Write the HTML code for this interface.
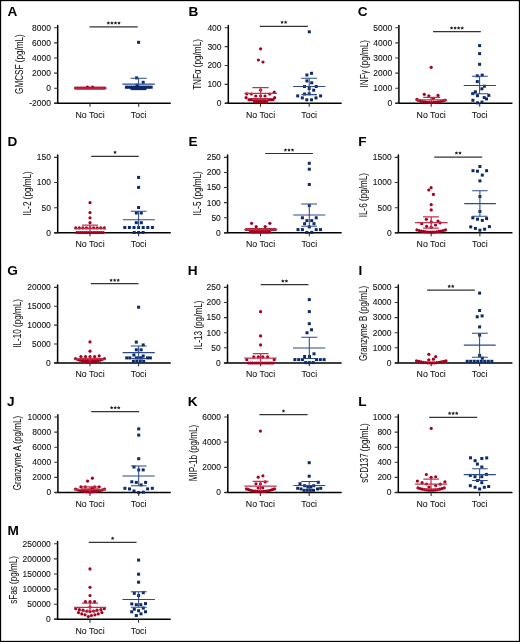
<!DOCTYPE html>
<html><head><meta charset="utf-8"><title>Figure</title><style>
html,body{margin:0;padding:0;background:#fff;}
svg{display:block;will-change:transform;}
text{font-family:"Liberation Sans", sans-serif;fill:#111;stroke:#111;stroke-width:0.06px;}
.L{font-size:13.6px;font-weight:bold;fill:#000;stroke:none;}
.tk{font-size:9.4px;text-anchor:end;stroke-width:0.1px;}
.ct{font-size:8.8px;text-anchor:middle;}
.yl{font-size:10.3px;text-anchor:middle;}
.ax{stroke:#000;stroke-width:1.5;fill:none;stroke-linecap:round;}
.tkl{stroke:#333;stroke-width:1.1;fill:none;}
.sg{stroke:#333;stroke-width:1.2;fill:none;}
.st{fill:#222;}
.r{fill:#a5001c;}
.b{fill:#0b2a6c;}
.rl{stroke:#c2304f;stroke-width:1.25;fill:none;}
.bl{stroke:#2c4a8a;stroke-width:1.05;fill:none;}
</style></head>
<body><svg width="520" height="642" viewBox="0 0 520 642">
<rect x="0" y="0" width="520" height="642" fill="#fff"/>
<text x="7.4" y="15.9" class="L">A</text>
<path d="M57.7 25.5V103.3 M54.8 103.3H170.2" class="ax"/>
<path d="M54.1 27.8H57.7M54.1 42.9H57.7M54.1 58H57.7M54.1 73.1H57.7M54.1 88.2H57.7M54.1 103.3H57.7M90 103.3V106.7M138.7 103.3V106.7" class="tkl"/>
<text transform="translate(50.9 30.65) scale(0.9 1)" class="tk">8000</text>
<text transform="translate(50.9 45.75) scale(0.9 1)" class="tk">6000</text>
<text transform="translate(50.9 60.85) scale(0.9 1)" class="tk">4000</text>
<text transform="translate(50.9 75.95) scale(0.9 1)" class="tk">2000</text>
<text transform="translate(50.9 91.05) scale(0.9 1)" class="tk">0</text>
<text transform="translate(50.9 106.15) scale(0.9 1)" class="tk">-2000</text>
<text x="90" y="117.6" class="ct">No Toci</text>
<text x="138.7" y="117.6" class="ct">Toci</text>
<text transform="translate(22.8 64.1) rotate(-90) scale(0.79 1)" class="yl">GMCSF (pg/mL)</text>
<path d="M89.6 26.9H137.8" class="sg"/>
<g class="st"><polygon points="108.38,21.25 108.94,22.32 110.13,22.53 109.29,23.4 109.46,24.6 108.38,24.06 107.29,24.6 107.46,23.4 106.62,22.53 107.81,22.32"/><polygon points="111.92,21.25 112.49,22.32 113.68,22.53 112.84,23.4 113.01,24.6 111.92,24.06 110.84,24.6 111.01,23.4 110.17,22.53 111.36,22.32"/><polygon points="115.48,21.25 116.04,22.32 117.23,22.53 116.39,23.4 116.56,24.6 115.48,24.06 114.39,24.6 114.56,23.4 113.72,22.53 114.91,22.32"/><polygon points="119.03,21.25 119.59,22.32 120.78,22.53 119.94,23.4 120.11,24.6 119.03,24.06 117.94,24.6 118.11,23.4 117.27,22.53 118.46,22.32"/></g>
<g class="r"><circle cx="75.5" cy="88.1" r="1.6"/><circle cx="77.04" cy="88.1" r="1.6"/><circle cx="78.57" cy="88.1" r="1.6"/><circle cx="80.11" cy="88.1" r="1.6"/><circle cx="81.65" cy="88.1" r="1.6"/><circle cx="83.18" cy="88.1" r="1.6"/><circle cx="84.72" cy="88.1" r="1.6"/><circle cx="86.26" cy="88.1" r="1.6"/><circle cx="87.79" cy="88.1" r="1.6"/><circle cx="89.33" cy="88.1" r="1.6"/><circle cx="90.87" cy="88.1" r="1.6"/><circle cx="92.41" cy="88.1" r="1.6"/><circle cx="93.94" cy="88.1" r="1.6"/><circle cx="95.48" cy="88.1" r="1.6"/><circle cx="97.02" cy="88.1" r="1.6"/><circle cx="98.55" cy="88.1" r="1.6"/><circle cx="100.09" cy="88.1" r="1.6"/><circle cx="101.63" cy="88.1" r="1.6"/><circle cx="103.16" cy="88.1" r="1.6"/><circle cx="104.7" cy="88.1" r="1.6"/><circle cx="87.4" cy="87.2" r="1.6"/><circle cx="92.6" cy="87.2" r="1.6"/></g>
<path d="M74 88.1H106.5" class="rl"/>
<g class="b"><rect x="137.1" y="40.8" width="3" height="3"/><rect x="135.1" y="76.4" width="3" height="3"/><rect x="141.7" y="80.8" width="3" height="3"/><rect x="135.5" y="83.8" width="3" height="3"/><rect x="124.9" y="85.7" width="3" height="3"/><rect x="126.97" y="85.7" width="3" height="3"/><rect x="129.03" y="85.7" width="3" height="3"/><rect x="131.1" y="85.7" width="3" height="3"/><rect x="133.17" y="85.7" width="3" height="3"/><rect x="135.23" y="85.7" width="3" height="3"/><rect x="137.3" y="85.7" width="3" height="3"/><rect x="139.37" y="85.7" width="3" height="3"/><rect x="141.43" y="85.7" width="3" height="3"/><rect x="143.5" y="85.7" width="3" height="3"/><rect x="145.57" y="85.7" width="3" height="3"/><rect x="147.63" y="85.7" width="3" height="3"/><rect x="149.7" y="85.7" width="3" height="3"/><rect x="130.5" y="87.1" width="3" height="3"/><rect x="132.67" y="87.1" width="3" height="3"/><rect x="134.83" y="87.1" width="3" height="3"/><rect x="137" y="87.1" width="3" height="3"/><rect x="139.17" y="87.1" width="3" height="3"/><rect x="141.33" y="87.1" width="3" height="3"/><rect x="143.5" y="87.1" width="3" height="3"/></g>
<path d="M122.4 84.1H154.8M130.5 78.2H146.7M138.6 78.2V86" class="bl"/>
<text x="188.4" y="15.9" class="L">B</text>
<path d="M228.3 25.5V103.3 M225.4 103.3H341.1" class="ax"/>
<path d="M224.7 27.8H228.3M224.7 46.67H228.3M224.7 65.55H228.3M224.7 84.42H228.3M224.7 103.3H228.3M260.5 103.3V106.7M309.2 103.3V106.7" class="tkl"/>
<text transform="translate(221.5 30.65) scale(0.9 1)" class="tk">400</text>
<text transform="translate(221.5 49.52) scale(0.9 1)" class="tk">300</text>
<text transform="translate(221.5 68.4) scale(0.9 1)" class="tk">200</text>
<text transform="translate(221.5 87.27) scale(0.9 1)" class="tk">100</text>
<text transform="translate(221.5 106.15) scale(0.9 1)" class="tk">0</text>
<text x="260.5" y="117.6" class="ct">No Toci</text>
<text x="309.2" y="117.6" class="ct">Toci</text>
<text transform="translate(201.2 64.5) rotate(-90) scale(0.79 1)" class="yl">TNFα (pg/mL)</text>
<path d="M259.8 26.4H307.9" class="sg"/>
<g class="st"><polygon points="282.08,20.45 282.64,21.52 283.83,21.73 282.99,22.6 283.16,23.8 282.08,23.26 280.99,23.8 281.16,22.6 280.32,21.73 281.51,21.52"/><polygon points="285.62,20.45 286.19,21.52 287.38,21.73 286.54,22.6 286.71,23.8 285.62,23.26 284.54,23.8 284.71,22.6 283.87,21.73 285.06,21.52"/></g>
<g class="r"><circle cx="260.6" cy="48.8" r="1.6"/><circle cx="258.4" cy="60" r="1.6"/><circle cx="263" cy="62" r="1.6"/><circle cx="260.6" cy="90.1" r="1.6"/><circle cx="246.8" cy="93.9" r="1.6"/><circle cx="251.3" cy="94" r="1.6"/><circle cx="269.7" cy="94" r="1.6"/><circle cx="274.2" cy="92.2" r="1.6"/><circle cx="255.8" cy="96" r="1.6"/><circle cx="260.6" cy="96" r="1.6"/><circle cx="265" cy="96" r="1.6"/><circle cx="246.1" cy="97.7" r="1.6"/><circle cx="274.7" cy="97.7" r="1.6"/><circle cx="249" cy="99.7" r="1.6"/><circle cx="251" cy="99.7" r="1.6"/><circle cx="253" cy="99.7" r="1.6"/><circle cx="255" cy="99.7" r="1.6"/><circle cx="257" cy="99.7" r="1.6"/><circle cx="259" cy="99.7" r="1.6"/><circle cx="261" cy="99.7" r="1.6"/><circle cx="263" cy="99.7" r="1.6"/><circle cx="265" cy="99.7" r="1.6"/><circle cx="267" cy="99.7" r="1.6"/><circle cx="269" cy="99.7" r="1.6"/><circle cx="271" cy="99.7" r="1.6"/><circle cx="273" cy="99.7" r="1.6"/><circle cx="254.5" cy="101.6" r="1.6"/><circle cx="256.5" cy="101.6" r="1.6"/><circle cx="258.5" cy="101.6" r="1.6"/><circle cx="260.5" cy="101.6" r="1.6"/><circle cx="262.5" cy="101.6" r="1.6"/><circle cx="264.5" cy="101.6" r="1.6"/><circle cx="266.5" cy="101.6" r="1.6"/></g>
<path d="M244.3 93.3H277M252.4 87.5H268.6M252.4 99.5H268.6M260.6 87.5V99.5" class="rl"/>
<g class="b"><rect x="307.8" y="30.3" width="3" height="3"/><rect x="310" y="71.8" width="3" height="3"/><rect x="305.4" y="73.5" width="3" height="3"/><rect x="305.4" y="79.4" width="3" height="3"/><rect x="310.2" y="81.3" width="3" height="3"/><rect x="303" y="85" width="3" height="3"/><rect x="314.7" y="85" width="3" height="3"/><rect x="307.7" y="87" width="3" height="3"/><rect x="312.2" y="88.7" width="3" height="3"/><rect x="303.1" y="92.5" width="3" height="3"/><rect x="307.7" y="92.3" width="3" height="3"/><rect x="296.2" y="94.4" width="3" height="3"/><rect x="319.1" y="94.4" width="3" height="3"/><rect x="300.8" y="96.4" width="3" height="3"/><rect x="314.5" y="96.4" width="3" height="3"/><rect x="305.3" y="98.3" width="3" height="3"/><rect x="310" y="98.3" width="3" height="3"/></g>
<path d="M293.1 86.5H325.4M301.2 78.2H317M301.5 94.6H317M309.2 78.2V94.6" class="bl"/>
<text x="357.8" y="15.9" class="L">C</text>
<path d="M398.9 25.5V103.3 M396 103.3H511.9" class="ax"/>
<path d="M395.3 27.8H398.9M395.3 42.9H398.9M395.3 58H398.9M395.3 73.1H398.9M395.3 88.2H398.9M395.3 103.3H398.9M431.2 103.3V106.7M479.7 103.3V106.7" class="tkl"/>
<text transform="translate(392.1 30.65) scale(0.9 1)" class="tk">5000</text>
<text transform="translate(392.1 45.75) scale(0.9 1)" class="tk">4000</text>
<text transform="translate(392.1 60.85) scale(0.9 1)" class="tk">3000</text>
<text transform="translate(392.1 75.95) scale(0.9 1)" class="tk">2000</text>
<text transform="translate(392.1 91.05) scale(0.9 1)" class="tk">1000</text>
<text transform="translate(392.1 106.15) scale(0.9 1)" class="tk">0</text>
<text x="431.2" y="117.6" class="ct">No Toci</text>
<text x="479.7" y="117.6" class="ct">Toci</text>
<text transform="translate(367.7 63.7) rotate(-90) scale(0.79 1)" class="yl">INFγ (pg/mL)</text>
<path d="M433 31.6H480.8" class="sg"/>
<g class="st"><polygon points="451.57,26.25 452.14,27.32 453.33,27.53 452.49,28.4 452.66,29.6 451.57,29.06 450.49,29.6 450.66,28.4 449.82,27.53 451.01,27.32"/><polygon points="455.12,26.25 455.69,27.32 456.88,27.53 456.04,28.4 456.21,29.6 455.12,29.06 454.04,29.6 454.21,28.4 453.37,27.53 454.56,27.32"/><polygon points="458.67,26.25 459.24,27.32 460.43,27.53 459.59,28.4 459.76,29.6 458.67,29.06 457.59,29.6 457.76,28.4 456.92,27.53 458.11,27.32"/><polygon points="462.22,26.25 462.79,27.32 463.98,27.53 463.14,28.4 463.31,29.6 462.22,29.06 461.14,29.6 461.31,28.4 460.47,27.53 461.66,27.32"/></g>
<g class="r"><circle cx="431.2" cy="67.3" r="1.6"/><circle cx="424.3" cy="94.3" r="1.6"/><circle cx="428.8" cy="95.8" r="1.6"/><circle cx="438" cy="95.4" r="1.6"/><circle cx="433.4" cy="98.6" r="1.6"/><circle cx="416.9" cy="99.4" r="1.6"/><circle cx="418" cy="100.2" r="1.6"/><circle cx="420.25" cy="100.9" r="1.6"/><circle cx="422.5" cy="101.48" r="1.6"/><circle cx="424.75" cy="101.92" r="1.6"/><circle cx="427" cy="102.24" r="1.6"/><circle cx="429.25" cy="102.44" r="1.6"/><circle cx="431.5" cy="102.5" r="1.6"/><circle cx="433.75" cy="102.44" r="1.6"/><circle cx="436" cy="102.24" r="1.6"/><circle cx="438.25" cy="101.92" r="1.6"/><circle cx="440.5" cy="101.48" r="1.6"/><circle cx="442.75" cy="100.9" r="1.6"/><circle cx="445" cy="100.2" r="1.6"/></g>
<path d="M415.7 99.8H447.2M423.3 97.3H440M431.2 97.3V101" class="rl"/>
<g class="b"><rect x="478.1" y="44.1" width="3" height="3"/><rect x="478.1" y="52.1" width="3" height="3"/><rect x="478.1" y="62.8" width="3" height="3"/><rect x="475.8" y="74.3" width="3" height="3"/><rect x="480.7" y="73.6" width="3" height="3"/><rect x="475.8" y="80.1" width="3" height="3"/><rect x="482.9" y="84.7" width="3" height="3"/><rect x="480.4" y="87.3" width="3" height="3"/><rect x="473.9" y="90.3" width="3" height="3"/><rect x="471.2" y="92.1" width="3" height="3"/><rect x="476" y="94.2" width="3" height="3"/><rect x="487.3" y="93.9" width="3" height="3"/><rect x="482.7" y="96.1" width="3" height="3"/><rect x="485" y="97.4" width="3" height="3"/><rect x="471.4" y="98.8" width="3" height="3"/><rect x="480.5" y="100.6" width="3" height="3"/><rect x="476" y="101.3" width="3" height="3"/></g>
<path d="M463.7 85.4H496M471.9 76.3H487.8M472 93.8H488.4M479.6 76.3V93.8" class="bl"/>
<text x="7.5" y="146.1" class="L">D</text>
<path d="M57.7 155.05V232.85 M54.8 232.85H170.2" class="ax"/>
<path d="M54.1 157.35H57.7M54.1 182.52H57.7M54.1 207.68H57.7M54.1 232.85H57.7M90 232.85V236.25M138.6 232.85V236.25" class="tkl"/>
<text transform="translate(50.9 160.2) scale(0.9 1)" class="tk">150</text>
<text transform="translate(50.9 185.37) scale(0.9 1)" class="tk">100</text>
<text transform="translate(50.9 210.53) scale(0.9 1)" class="tk">50</text>
<text transform="translate(50.9 235.7) scale(0.9 1)" class="tk">0</text>
<text x="90" y="247.15" class="ct">No Toci</text>
<text x="138.6" y="247.15" class="ct">Toci</text>
<text transform="translate(30.6 193.4) rotate(-90) scale(0.79 1)" class="yl">IL-2 (pg/mL)</text>
<path d="M91.2 156.4H138.8" class="sg"/>
<g class="st"><polygon points="115,150.55 115.57,151.62 116.76,151.83 115.91,152.7 116.09,153.9 115,153.36 113.91,153.9 114.09,152.7 113.24,151.83 114.43,151.62"/></g>
<g class="r"><circle cx="90" cy="202.7" r="1.6"/><circle cx="90" cy="212.6" r="1.6"/><circle cx="90" cy="217.8" r="1.6"/><circle cx="90" cy="222.7" r="1.6"/><circle cx="75.7" cy="227.9" r="1.6"/><circle cx="79.28" cy="227.9" r="1.6"/><circle cx="82.85" cy="227.9" r="1.6"/><circle cx="86.42" cy="227.9" r="1.6"/><circle cx="90" cy="227.9" r="1.6"/><circle cx="93.58" cy="227.9" r="1.6"/><circle cx="97.15" cy="227.9" r="1.6"/><circle cx="100.72" cy="227.9" r="1.6"/><circle cx="104.3" cy="227.9" r="1.6"/><circle cx="76.8" cy="232.5" r="1.6"/><circle cx="78.83" cy="232.5" r="1.6"/><circle cx="80.86" cy="232.5" r="1.6"/><circle cx="82.89" cy="232.5" r="1.6"/><circle cx="84.92" cy="232.5" r="1.6"/><circle cx="86.95" cy="232.5" r="1.6"/><circle cx="88.98" cy="232.5" r="1.6"/><circle cx="91.02" cy="232.5" r="1.6"/><circle cx="93.05" cy="232.5" r="1.6"/><circle cx="95.08" cy="232.5" r="1.6"/><circle cx="97.11" cy="232.5" r="1.6"/><circle cx="99.14" cy="232.5" r="1.6"/><circle cx="101.17" cy="232.5" r="1.6"/><circle cx="103.2" cy="232.5" r="1.6"/></g>
<path d="M74.5 228.6H106M82.1 225H97.9M90 225V231" class="rl"/>
<g class="b"><rect x="137.1" y="175.9" width="3" height="3"/><rect x="137.1" y="185.9" width="3" height="3"/><rect x="137.1" y="206" width="3" height="3"/><rect x="134.8" y="211.5" width="3" height="3"/><rect x="139.8" y="211.5" width="3" height="3"/><rect x="134.8" y="221.2" width="3" height="3"/><rect x="139.8" y="221.2" width="3" height="3"/><rect x="123.3" y="226" width="3" height="3"/><rect x="127.9" y="226" width="3" height="3"/><rect x="132.5" y="226" width="3" height="3"/><rect x="137.1" y="226" width="3" height="3"/><rect x="141.7" y="226" width="3" height="3"/><rect x="146.3" y="226" width="3" height="3"/><rect x="150.9" y="226" width="3" height="3"/><rect x="132.7" y="231" width="3" height="3"/><rect x="137.15" y="231" width="3" height="3"/><rect x="141.6" y="231" width="3" height="3"/></g>
<path d="M122.8 219.7H154.9M130.8 211.3H146.5M138.6 211.3V228" class="bl"/>
<text x="188.6" y="146.2" class="L">E</text>
<path d="M227.6 155.05V232.85 M224.7 232.85H341.1" class="ax"/>
<path d="M224 157.35H227.6M224 172.45H227.6M224 187.55H227.6M224 202.65H227.6M224 217.75H227.6M224 232.85H227.6M260.5 232.85V236.25M309.3 232.85V236.25" class="tkl"/>
<text transform="translate(220.8 160.2) scale(0.9 1)" class="tk">250</text>
<text transform="translate(220.8 175.3) scale(0.9 1)" class="tk">200</text>
<text transform="translate(220.8 190.4) scale(0.9 1)" class="tk">150</text>
<text transform="translate(220.8 205.5) scale(0.9 1)" class="tk">100</text>
<text transform="translate(220.8 220.6) scale(0.9 1)" class="tk">50</text>
<text transform="translate(220.8 235.7) scale(0.9 1)" class="tk">0</text>
<text x="260.5" y="247.15" class="ct">No Toci</text>
<text x="309.3" y="247.15" class="ct">Toci</text>
<text transform="translate(201.3 193.4) rotate(-90) scale(0.79 1)" class="yl">IL-5 (pg/mL)</text>
<path d="M265.1 153.5H312.9" class="sg"/>
<g class="st"><polygon points="285.45,148.15 286.02,149.22 287.21,149.43 286.36,150.3 286.54,151.5 285.45,150.96 284.36,151.5 284.54,150.3 283.69,149.43 284.88,149.22"/><polygon points="289,148.15 289.57,149.22 290.76,149.43 289.91,150.3 290.09,151.5 289,150.96 287.91,151.5 288.09,150.3 287.24,149.43 288.43,149.22"/><polygon points="292.55,148.15 293.12,149.22 294.31,149.43 293.46,150.3 293.64,151.5 292.55,150.96 291.46,151.5 291.64,150.3 290.79,149.43 291.98,149.22"/></g>
<g class="r"><circle cx="251.6" cy="223.3" r="1.6"/><circle cx="269.9" cy="223.3" r="1.6"/><circle cx="256.2" cy="226.6" r="1.6"/><circle cx="265.2" cy="226.6" r="1.6"/><circle cx="246.2" cy="229.5" r="1.6"/><circle cx="248.14" cy="229.5" r="1.6"/><circle cx="250.08" cy="229.5" r="1.6"/><circle cx="252.02" cy="229.5" r="1.6"/><circle cx="253.96" cy="229.5" r="1.6"/><circle cx="255.9" cy="229.5" r="1.6"/><circle cx="257.84" cy="229.5" r="1.6"/><circle cx="259.78" cy="229.5" r="1.6"/><circle cx="261.72" cy="229.5" r="1.6"/><circle cx="263.66" cy="229.5" r="1.6"/><circle cx="265.6" cy="229.5" r="1.6"/><circle cx="267.54" cy="229.5" r="1.6"/><circle cx="269.48" cy="229.5" r="1.6"/><circle cx="271.42" cy="229.5" r="1.6"/><circle cx="273.36" cy="229.5" r="1.6"/><circle cx="275.3" cy="229.5" r="1.6"/><circle cx="250.5" cy="232" r="1.6"/><circle cx="252.4" cy="232" r="1.6"/><circle cx="254.3" cy="232" r="1.6"/><circle cx="256.2" cy="232" r="1.6"/><circle cx="258.1" cy="232" r="1.6"/><circle cx="260" cy="232" r="1.6"/><circle cx="261.9" cy="232" r="1.6"/><circle cx="263.8" cy="232" r="1.6"/><circle cx="265.7" cy="232" r="1.6"/><circle cx="267.6" cy="232" r="1.6"/><circle cx="269.5" cy="232" r="1.6"/></g>
<path d="M244.3 229.5H277.3" class="rl"/>
<g class="b"><rect x="307.8" y="161.8" width="3" height="3"/><rect x="307.8" y="167.7" width="3" height="3"/><rect x="307.8" y="183" width="3" height="3"/><rect x="307.8" y="204.1" width="3" height="3"/><rect x="300.9" y="216.3" width="3" height="3"/><rect x="314.7" y="216.3" width="3" height="3"/><rect x="305.4" y="219.1" width="3" height="3"/><rect x="310.2" y="219.1" width="3" height="3"/><rect x="303.1" y="222.2" width="3" height="3"/><rect x="312.5" y="222.2" width="3" height="3"/><rect x="307.8" y="225.4" width="3" height="3"/><rect x="296.5" y="228.1" width="3" height="3"/><rect x="300.9" y="228.1" width="3" height="3"/><rect x="314.7" y="228.1" width="3" height="3"/><rect x="319" y="228.1" width="3" height="3"/><rect x="305.4" y="230.9" width="3" height="3"/><rect x="310.2" y="230.9" width="3" height="3"/></g>
<path d="M293.3 215H325.3M301.3 204H317M301.3 226.3H317M309.3 204V226.3" class="bl"/>
<text x="358.3" y="146.2" class="L">F</text>
<path d="M398.4 155.05V232.85 M395.5 232.85H511.9" class="ax"/>
<path d="M394.8 157.35H398.4M394.8 182.52H398.4M394.8 207.68H398.4M394.8 232.85H398.4M431.2 232.85V236.25M479.9 232.85V236.25" class="tkl"/>
<text transform="translate(391.6 160.2) scale(0.9 1)" class="tk">1500</text>
<text transform="translate(391.6 185.37) scale(0.9 1)" class="tk">1000</text>
<text transform="translate(391.6 210.53) scale(0.9 1)" class="tk">500</text>
<text transform="translate(391.6 235.7) scale(0.9 1)" class="tk">0</text>
<text x="431.2" y="247.15" class="ct">No Toci</text>
<text x="479.9" y="247.15" class="ct">Toci</text>
<text transform="translate(367 195.1) rotate(-90) scale(0.79 1)" class="yl">IL-6 (pg/mL)</text>
<path d="M434.2 157.1H482.2" class="sg"/>
<g class="st"><polygon points="456.43,151.25 456.99,152.32 458.18,152.53 457.34,153.4 457.51,154.6 456.43,154.06 455.34,154.6 455.51,153.4 454.67,152.53 455.86,152.32"/><polygon points="459.97,151.25 460.54,152.32 461.73,152.53 460.89,153.4 461.06,154.6 459.97,154.06 458.89,154.6 459.06,153.4 458.22,152.53 459.41,152.32"/></g>
<g class="r"><circle cx="431.1" cy="187.7" r="1.6"/><circle cx="428.8" cy="190" r="1.6"/><circle cx="433.4" cy="194.4" r="1.6"/><circle cx="431.2" cy="204.7" r="1.6"/><circle cx="431.2" cy="209.9" r="1.6"/><circle cx="426.4" cy="219.3" r="1.6"/><circle cx="431.2" cy="221.9" r="1.6"/><circle cx="438" cy="221" r="1.6"/><circle cx="440.1" cy="222.8" r="1.6"/><circle cx="421.8" cy="223.7" r="1.6"/><circle cx="435.6" cy="225" r="1.6"/><circle cx="426.6" cy="226.3" r="1.6"/><circle cx="431.2" cy="227.2" r="1.6"/><circle cx="417" cy="229.9" r="1.6"/><circle cx="419.19" cy="230.52" r="1.6"/><circle cx="421.38" cy="231.05" r="1.6"/><circle cx="423.58" cy="231.46" r="1.6"/><circle cx="425.77" cy="231.77" r="1.6"/><circle cx="427.96" cy="231.98" r="1.6"/><circle cx="430.15" cy="232.09" r="1.6"/><circle cx="432.35" cy="232.09" r="1.6"/><circle cx="434.54" cy="231.98" r="1.6"/><circle cx="436.73" cy="231.77" r="1.6"/><circle cx="438.92" cy="231.46" r="1.6"/><circle cx="441.12" cy="231.05" r="1.6"/><circle cx="443.31" cy="230.52" r="1.6"/><circle cx="445.5" cy="229.9" r="1.6"/></g>
<path d="M414.8 222.5H447.6M423.1 216.9H438.8M423.1 228H438.8M431.2 216.9V228" class="rl"/>
<g class="b"><rect x="478.4" y="165" width="3" height="3"/><rect x="471.5" y="169.2" width="3" height="3"/><rect x="476" y="169.7" width="3" height="3"/><rect x="485.1" y="169.2" width="3" height="3"/><rect x="480.8" y="173.6" width="3" height="3"/><rect x="478.4" y="179.4" width="3" height="3"/><rect x="478.4" y="195" width="3" height="3"/><rect x="478.4" y="210" width="3" height="3"/><rect x="471.3" y="216.3" width="3" height="3"/><rect x="476" y="217.7" width="3" height="3"/><rect x="480.8" y="218.9" width="3" height="3"/><rect x="485.1" y="217.1" width="3" height="3"/><rect x="469.2" y="225.4" width="3" height="3"/><rect x="473.9" y="226.9" width="3" height="3"/><rect x="478.4" y="228.7" width="3" height="3"/><rect x="483.1" y="227.7" width="3" height="3"/><rect x="487.9" y="225.1" width="3" height="3"/></g>
<path d="M464.2 203.6H495.9M472.2 190.8H487.6M472.2 216.2H487.6M479.9 190.8V216.2" class="bl"/>
<text x="7.2" y="275.3" class="L">G</text>
<path d="M57.6 285.1V362.9 M54.7 362.9H170.2" class="ax"/>
<path d="M54 287.4H57.6M54 306.27H57.6M54 325.15H57.6M54 344.02H57.6M54 362.9H57.6M90 362.9V366.3M138.6 362.9V366.3" class="tkl"/>
<text transform="translate(50.8 290.25) scale(0.9 1)" class="tk">20000</text>
<text transform="translate(50.8 309.12) scale(0.9 1)" class="tk">15000</text>
<text transform="translate(50.8 328) scale(0.9 1)" class="tk">10000</text>
<text transform="translate(50.8 346.88) scale(0.9 1)" class="tk">5000</text>
<text transform="translate(50.8 365.75) scale(0.9 1)" class="tk">0</text>
<text x="90" y="377.2" class="ct">No Toci</text>
<text x="138.6" y="377.2" class="ct">Toci</text>
<text transform="translate(21.3 323.4) rotate(-90) scale(0.79 1)" class="yl">IL-10 (pg/mL)</text>
<path d="M90.8 283.7H138.5" class="sg"/>
<g class="st"><polygon points="111.1,278.45 111.67,279.52 112.86,279.73 112.01,280.6 112.19,281.8 111.1,281.26 110.01,281.8 110.19,280.6 109.34,279.73 110.53,279.52"/><polygon points="114.65,278.45 115.22,279.52 116.41,279.73 115.56,280.6 115.74,281.8 114.65,281.26 113.56,281.8 113.74,280.6 112.89,279.73 114.08,279.52"/><polygon points="118.2,278.45 118.77,279.52 119.96,279.73 119.11,280.6 119.29,281.8 118.2,281.26 117.11,281.8 117.29,280.6 116.44,279.73 117.63,279.52"/></g>
<g class="r"><circle cx="90" cy="341.9" r="1.6"/><circle cx="90" cy="351.2" r="1.6"/><circle cx="80.9" cy="356.6" r="1.6"/><circle cx="85.5" cy="356.6" r="1.6"/><circle cx="90" cy="356.6" r="1.6"/><circle cx="94.6" cy="356.6" r="1.6"/><circle cx="99.2" cy="355.8" r="1.6"/><circle cx="75.5" cy="358.6" r="1.6"/><circle cx="77.73" cy="359.51" r="1.6"/><circle cx="79.96" cy="360.27" r="1.6"/><circle cx="82.19" cy="360.87" r="1.6"/><circle cx="84.42" cy="361.33" r="1.6"/><circle cx="86.65" cy="361.63" r="1.6"/><circle cx="88.88" cy="361.78" r="1.6"/><circle cx="91.12" cy="361.78" r="1.6"/><circle cx="93.35" cy="361.63" r="1.6"/><circle cx="95.58" cy="361.33" r="1.6"/><circle cx="97.81" cy="360.87" r="1.6"/><circle cx="100.04" cy="360.27" r="1.6"/><circle cx="102.27" cy="359.51" r="1.6"/><circle cx="104.5" cy="358.6" r="1.6"/><circle cx="80" cy="359.6" r="1.6"/><circle cx="82" cy="359.6" r="1.6"/><circle cx="84" cy="359.6" r="1.6"/><circle cx="86" cy="359.6" r="1.6"/><circle cx="88" cy="359.6" r="1.6"/><circle cx="90" cy="359.6" r="1.6"/><circle cx="92" cy="359.6" r="1.6"/><circle cx="94" cy="359.6" r="1.6"/><circle cx="96" cy="359.6" r="1.6"/><circle cx="98" cy="359.6" r="1.6"/><circle cx="100" cy="359.6" r="1.6"/></g>
<path d="M74 359.2H106M80 358.4H100M90 358.4V362" class="rl"/>
<g class="b"><rect x="137.1" y="305.7" width="3" height="3"/><rect x="134.8" y="340.6" width="3" height="3"/><rect x="141.7" y="343.4" width="3" height="3"/><rect x="134.8" y="348.3" width="3" height="3"/><rect x="139.6" y="348.3" width="3" height="3"/><rect x="132.4" y="353.5" width="3" height="3"/><rect x="141.7" y="354.5" width="3" height="3"/><rect x="125.2" y="356.4" width="3" height="3"/><rect x="128.3" y="356.4" width="3" height="3"/><rect x="134.8" y="356.4" width="3" height="3"/><rect x="137.5" y="356.4" width="3" height="3"/><rect x="140" y="356.4" width="3" height="3"/><rect x="146" y="356.4" width="3" height="3"/><rect x="148.9" y="356.4" width="3" height="3"/><rect x="131.9" y="359.7" width="3" height="3"/><rect x="135.33" y="359.7" width="3" height="3"/><rect x="138.77" y="359.7" width="3" height="3"/><rect x="142.2" y="359.7" width="3" height="3"/></g>
<path d="M122.6 352.6H154.8M130.8 345.9H146.6M130.8 358.5H146.6M138.6 345.9V358.5" class="bl"/>
<text x="187.8" y="275.3" class="L">H</text>
<path d="M227.5 285.1V362.9 M224.6 362.9H341.1" class="ax"/>
<path d="M223.9 287.4H227.5M223.9 302.5H227.5M223.9 317.6H227.5M223.9 332.7H227.5M223.9 347.8H227.5M223.9 362.9H227.5M260.6 362.9V366.3M309.3 362.9V366.3" class="tkl"/>
<text transform="translate(220.7 290.25) scale(0.9 1)" class="tk">250</text>
<text transform="translate(220.7 305.35) scale(0.9 1)" class="tk">200</text>
<text transform="translate(220.7 320.45) scale(0.9 1)" class="tk">150</text>
<text transform="translate(220.7 335.55) scale(0.9 1)" class="tk">100</text>
<text transform="translate(220.7 350.65) scale(0.9 1)" class="tk">50</text>
<text transform="translate(220.7 365.75) scale(0.9 1)" class="tk">0</text>
<text x="260.6" y="377.2" class="ct">No Toci</text>
<text x="309.3" y="377.2" class="ct">Toci</text>
<text transform="translate(201.6 325) rotate(-90) scale(0.79 1)" class="yl">IL-13 (pg/mL)</text>
<path d="M260.8 284.7H308.5" class="sg"/>
<g class="st"><polygon points="282.88,279.25 283.44,280.32 284.63,280.53 283.79,281.4 283.96,282.6 282.88,282.06 281.79,282.6 281.96,281.4 281.12,280.53 282.31,280.32"/><polygon points="286.42,279.25 286.99,280.32 288.18,280.53 287.34,281.4 287.51,282.6 286.42,282.06 285.34,282.6 285.51,281.4 284.67,280.53 285.86,280.32"/></g>
<g class="r"><circle cx="260.6" cy="311.7" r="1.6"/><circle cx="260.6" cy="335.9" r="1.6"/><circle cx="260.6" cy="344.9" r="1.6"/><circle cx="253.8" cy="356.8" r="1.6"/><circle cx="258.3" cy="356.8" r="1.6"/><circle cx="262.8" cy="356.8" r="1.6"/><circle cx="267.6" cy="356.8" r="1.6"/><circle cx="246.8" cy="359.7" r="1.6"/><circle cx="274.2" cy="359.7" r="1.6"/><circle cx="248.5" cy="363" r="1.6"/><circle cx="250.54" cy="363" r="1.6"/><circle cx="252.58" cy="363" r="1.6"/><circle cx="254.62" cy="363" r="1.6"/><circle cx="256.67" cy="363" r="1.6"/><circle cx="258.71" cy="363" r="1.6"/><circle cx="260.75" cy="363" r="1.6"/><circle cx="262.79" cy="363" r="1.6"/><circle cx="264.83" cy="363" r="1.6"/><circle cx="266.88" cy="363" r="1.6"/><circle cx="268.92" cy="363" r="1.6"/><circle cx="270.96" cy="363" r="1.6"/><circle cx="273" cy="363" r="1.6"/></g>
<path d="M244.3 358H276.6M252.8 353.5H268.5M260.6 353.5V363" class="rl"/>
<g class="b"><rect x="307.8" y="298.1" width="3" height="3"/><rect x="307.8" y="310.1" width="3" height="3"/><rect x="307.8" y="322.2" width="3" height="3"/><rect x="310" y="328.3" width="3" height="3"/><rect x="305.5" y="331.3" width="3" height="3"/><rect x="312.5" y="352.3" width="3" height="3"/><rect x="303.1" y="355" width="3" height="3"/><rect x="308" y="355" width="3" height="3"/><rect x="293.4" y="358.1" width="3" height="3"/><rect x="297.2" y="358.1" width="3" height="3"/><rect x="300.9" y="358.1" width="3" height="3"/><rect x="315" y="358.1" width="3" height="3"/><rect x="318.8" y="358.1" width="3" height="3"/><rect x="322.6" y="358.1" width="3" height="3"/><rect x="304.2" y="361.1" width="3" height="3"/><rect x="307.8" y="361.1" width="3" height="3"/><rect x="311.7" y="361.1" width="3" height="3"/></g>
<path d="M293 348H325.3M301.3 337.3H317.3M301.3 358.5H317.3M309.3 337.3V358.5" class="bl"/>
<text x="358.5" y="275.3" class="L">I</text>
<path d="M398.3 285.1V362.9 M395.4 362.9H511.9" class="ax"/>
<path d="M394.7 287.4H398.3M394.7 302.5H398.3M394.7 317.6H398.3M394.7 332.7H398.3M394.7 347.8H398.3M394.7 362.9H398.3M431.2 362.9V366.3M479.6 362.9V366.3" class="tkl"/>
<text transform="translate(391.5 290.25) scale(0.9 1)" class="tk">5000</text>
<text transform="translate(391.5 305.35) scale(0.9 1)" class="tk">4000</text>
<text transform="translate(391.5 320.45) scale(0.9 1)" class="tk">3000</text>
<text transform="translate(391.5 335.55) scale(0.9 1)" class="tk">2000</text>
<text transform="translate(391.5 350.65) scale(0.9 1)" class="tk">1000</text>
<text transform="translate(391.5 365.75) scale(0.9 1)" class="tk">0</text>
<text x="431.2" y="377.2" class="ct">No Toci</text>
<text x="479.6" y="377.2" class="ct">Toci</text>
<text transform="translate(366.6 323.4) rotate(-90) scale(0.79 1)" class="yl">Granzyme B (pg/mL)</text>
<path d="M427.1 290.1H474.9" class="sg"/>
<g class="st"><polygon points="449.23,284.55 449.79,285.62 450.98,285.83 450.14,286.7 450.31,287.9 449.23,287.36 448.14,287.9 448.31,286.7 447.47,285.83 448.66,285.62"/><polygon points="452.77,284.55 453.34,285.62 454.53,285.83 453.69,286.7 453.86,287.9 452.77,287.36 451.69,287.9 451.86,286.7 451.02,285.83 452.21,285.62"/></g>
<g class="r"><circle cx="428.8" cy="354.3" r="1.6"/><circle cx="435.7" cy="356.7" r="1.6"/><circle cx="428.8" cy="359.8" r="1.6"/><circle cx="433.4" cy="359.2" r="1.6"/><circle cx="416.5" cy="360.8" r="1.6"/><circle cx="418.77" cy="361.4" r="1.6"/><circle cx="421.04" cy="361.89" r="1.6"/><circle cx="423.31" cy="362.29" r="1.6"/><circle cx="425.58" cy="362.59" r="1.6"/><circle cx="427.85" cy="362.79" r="1.6"/><circle cx="430.12" cy="362.89" r="1.6"/><circle cx="432.38" cy="362.89" r="1.6"/><circle cx="434.65" cy="362.79" r="1.6"/><circle cx="436.92" cy="362.59" r="1.6"/><circle cx="439.19" cy="362.29" r="1.6"/><circle cx="441.46" cy="361.89" r="1.6"/><circle cx="443.73" cy="361.4" r="1.6"/><circle cx="446" cy="360.8" r="1.6"/></g>
<path d="" class="rl"/>
<g class="b"><rect x="478.1" y="291.6" width="3" height="3"/><rect x="478.1" y="309" width="3" height="3"/><rect x="475.7" y="315.3" width="3" height="3"/><rect x="480.6" y="314.4" width="3" height="3"/><rect x="478.1" y="325.4" width="3" height="3"/><rect x="478.1" y="333.6" width="3" height="3"/><rect x="478.1" y="353.9" width="3" height="3"/><rect x="480.8" y="356.7" width="3" height="3"/><rect x="465.7" y="359.8" width="3" height="3"/><rect x="469.21" y="359.8" width="3" height="3"/><rect x="472.73" y="359.8" width="3" height="3"/><rect x="476.24" y="359.8" width="3" height="3"/><rect x="479.76" y="359.8" width="3" height="3"/><rect x="483.27" y="359.8" width="3" height="3"/><rect x="486.79" y="359.8" width="3" height="3"/><rect x="490.3" y="359.8" width="3" height="3"/></g>
<path d="M463.8 345.1H495.7M472 333.2H487.8M472 357.3H487.8M479.6 333.2V357.3" class="bl"/>
<text x="6.9" y="405.9" class="L">J</text>
<path d="M57.9 414.7V492.5 M55 492.5H170.2" class="ax"/>
<path d="M54.3 417H57.9M54.3 432.1H57.9M54.3 447.2H57.9M54.3 462.3H57.9M54.3 477.4H57.9M54.3 492.5H57.9M90 492.5V495.9M138.7 492.5V495.9" class="tkl"/>
<text transform="translate(51.1 419.85) scale(0.9 1)" class="tk">10000</text>
<text transform="translate(51.1 434.95) scale(0.9 1)" class="tk">8000</text>
<text transform="translate(51.1 450.05) scale(0.9 1)" class="tk">6000</text>
<text transform="translate(51.1 465.15) scale(0.9 1)" class="tk">4000</text>
<text transform="translate(51.1 480.25) scale(0.9 1)" class="tk">2000</text>
<text transform="translate(51.1 495.35) scale(0.9 1)" class="tk">0</text>
<text x="90" y="506.8" class="ct">No Toci</text>
<text x="138.7" y="506.8" class="ct">Toci</text>
<text transform="translate(21.3 453) rotate(-90) scale(0.79 1)" class="yl">Granzyme A (pg/mL)</text>
<path d="M91.2 411.7H139.2" class="sg"/>
<g class="st"><polygon points="111.65,405.85 112.22,406.92 113.41,407.13 112.56,408 112.74,409.2 111.65,408.66 110.56,409.2 110.74,408 109.89,407.13 111.08,406.92"/><polygon points="115.2,405.85 115.77,406.92 116.96,407.13 116.11,408 116.29,409.2 115.2,408.66 114.11,409.2 114.29,408 113.44,407.13 114.63,406.92"/><polygon points="118.75,405.85 119.32,406.92 120.51,407.13 119.66,408 119.84,409.2 118.75,408.66 117.66,409.2 117.84,408 116.99,407.13 118.18,406.92"/></g>
<g class="r"><circle cx="92.4" cy="478.2" r="1.6"/><circle cx="87.6" cy="481.1" r="1.6"/><circle cx="80.9" cy="486.8" r="1.6"/><circle cx="85.3" cy="486.8" r="1.6"/><circle cx="94.6" cy="486.8" r="1.6"/><circle cx="99.2" cy="486.8" r="1.6"/><circle cx="92.2" cy="488.2" r="1.6"/><circle cx="75.5" cy="489.2" r="1.6"/><circle cx="77.73" cy="489.94" r="1.6"/><circle cx="79.96" cy="490.55" r="1.6"/><circle cx="82.19" cy="491.05" r="1.6"/><circle cx="84.42" cy="491.42" r="1.6"/><circle cx="86.65" cy="491.66" r="1.6"/><circle cx="88.88" cy="491.78" r="1.6"/><circle cx="91.12" cy="491.78" r="1.6"/><circle cx="93.35" cy="491.66" r="1.6"/><circle cx="95.58" cy="491.42" r="1.6"/><circle cx="97.81" cy="491.05" r="1.6"/><circle cx="100.04" cy="490.55" r="1.6"/><circle cx="102.27" cy="489.94" r="1.6"/><circle cx="104.5" cy="489.2" r="1.6"/><circle cx="82" cy="489.8" r="1.6"/><circle cx="84" cy="489.8" r="1.6"/><circle cx="86" cy="489.8" r="1.6"/><circle cx="88" cy="489.8" r="1.6"/><circle cx="90" cy="489.8" r="1.6"/><circle cx="92" cy="489.8" r="1.6"/><circle cx="94" cy="489.8" r="1.6"/><circle cx="96" cy="489.8" r="1.6"/><circle cx="98" cy="489.8" r="1.6"/></g>
<path d="M74 489.6H106M82 486.9H98M90 486.9V492" class="rl"/>
<g class="b"><rect x="137.2" y="427.4" width="3" height="3"/><rect x="137.2" y="433.6" width="3" height="3"/><rect x="137.2" y="457.2" width="3" height="3"/><rect x="132.5" y="465.5" width="3" height="3"/><rect x="137.2" y="468.4" width="3" height="3"/><rect x="141.7" y="468.4" width="3" height="3"/><rect x="130.3" y="480.3" width="3" height="3"/><rect x="134.8" y="480.9" width="3" height="3"/><rect x="144.1" y="480.9" width="3" height="3"/><rect x="139.6" y="483.4" width="3" height="3"/><rect x="123.4" y="486.8" width="3" height="3"/><rect x="128" y="487.4" width="3" height="3"/><rect x="146.1" y="487.4" width="3" height="3"/><rect x="150.8" y="486.8" width="3" height="3"/><rect x="132.5" y="489.5" width="3" height="3"/><rect x="137.2" y="491" width="3" height="3"/><rect x="141.9" y="490.7" width="3" height="3"/></g>
<path d="M122.5 476H154.7M131 465.9H146.6M131 485.7H146.6M138.7 465.9V485.7" class="bl"/>
<text x="187.8" y="405.9" class="L">K</text>
<path d="M227.8 414.7V492.5 M224.9 492.5H341.1" class="ax"/>
<path d="M224.2 417H227.8M224.2 442.17H227.8M224.2 467.33H227.8M224.2 492.5H227.8M260.4 492.5V495.9M309.2 492.5V495.9" class="tkl"/>
<text transform="translate(221 419.85) scale(0.9 1)" class="tk">6000</text>
<text transform="translate(221 445.02) scale(0.9 1)" class="tk">4000</text>
<text transform="translate(221 470.18) scale(0.9 1)" class="tk">2000</text>
<text transform="translate(221 495.35) scale(0.9 1)" class="tk">0</text>
<text x="260.4" y="506.8" class="ct">No Toci</text>
<text x="309.2" y="506.8" class="ct">Toci</text>
<text transform="translate(197.1 453) rotate(-90) scale(0.79 1)" class="yl">MIP-1b (pg/mL)</text>
<path d="M259.4 414.7H307.6" class="sg"/>
<g class="st"><polygon points="283.5,409.15 284.07,410.22 285.26,410.43 284.41,411.3 284.59,412.5 283.5,411.96 282.41,412.5 282.59,411.3 281.74,410.43 282.93,410.22"/></g>
<g class="r"><circle cx="260.4" cy="431.1" r="1.6"/><circle cx="258.2" cy="477.2" r="1.6"/><circle cx="262.9" cy="475.8" r="1.6"/><circle cx="265.2" cy="481.9" r="1.6"/><circle cx="256" cy="483.8" r="1.6"/><circle cx="260.4" cy="483.8" r="1.6"/><circle cx="258.2" cy="488" r="1.6"/><circle cx="262.7" cy="487.8" r="1.6"/><circle cx="246.5" cy="488.9" r="1.6"/><circle cx="248.65" cy="489.67" r="1.6"/><circle cx="250.81" cy="490.31" r="1.6"/><circle cx="252.96" cy="490.82" r="1.6"/><circle cx="255.12" cy="491.2" r="1.6"/><circle cx="257.27" cy="491.46" r="1.6"/><circle cx="259.42" cy="491.58" r="1.6"/><circle cx="261.58" cy="491.58" r="1.6"/><circle cx="263.73" cy="491.46" r="1.6"/><circle cx="265.88" cy="491.2" r="1.6"/><circle cx="268.04" cy="490.82" r="1.6"/><circle cx="270.19" cy="490.31" r="1.6"/><circle cx="272.35" cy="489.67" r="1.6"/><circle cx="274.5" cy="488.9" r="1.6"/></g>
<path d="M244.4 486.1H276.7M252.7 481.4H268.5M260.4 481.4V490" class="rl"/>
<g class="b"><rect x="307.7" y="461.2" width="3" height="3"/><rect x="307.7" y="474.7" width="3" height="3"/><rect x="316.8" y="480.8" width="3" height="3"/><rect x="298.5" y="482.2" width="3" height="3"/><rect x="303.1" y="484.2" width="3" height="3"/><rect x="312.2" y="484.2" width="3" height="3"/><rect x="306.3" y="485.5" width="3" height="3"/><rect x="309.3" y="485.5" width="3" height="3"/><rect x="296.2" y="486.8" width="3" height="3"/><rect x="299.5" y="487.4" width="3" height="3"/><rect x="316" y="487.4" width="3" height="3"/><rect x="319.2" y="486.8" width="3" height="3"/><rect x="302.5" y="488.8" width="3" height="3"/><rect x="305.67" y="488.8" width="3" height="3"/><rect x="308.83" y="488.8" width="3" height="3"/><rect x="312" y="488.8" width="3" height="3"/></g>
<path d="M293.3 485.5H325.2M301.3 481.5H318.3M309.2 481.5V490" class="bl"/>
<text x="358.3" y="405.9" class="L">L</text>
<path d="M398.3 414.7V492.5 M395.4 492.5H511.9" class="ax"/>
<path d="M394.7 417H398.3M394.7 432.1H398.3M394.7 447.2H398.3M394.7 462.3H398.3M394.7 477.4H398.3M394.7 492.5H398.3M431.1 492.5V495.9M479.6 492.5V495.9" class="tkl"/>
<text transform="translate(391.5 419.85) scale(0.9 1)" class="tk">1000</text>
<text transform="translate(391.5 434.95) scale(0.9 1)" class="tk">800</text>
<text transform="translate(391.5 450.05) scale(0.9 1)" class="tk">600</text>
<text transform="translate(391.5 465.15) scale(0.9 1)" class="tk">400</text>
<text transform="translate(391.5 480.25) scale(0.9 1)" class="tk">200</text>
<text transform="translate(391.5 495.35) scale(0.9 1)" class="tk">0</text>
<text x="431.1" y="506.8" class="ct">No Toci</text>
<text x="479.6" y="506.8" class="ct">Toci</text>
<text transform="translate(368 453) rotate(-90) scale(0.79 1)" class="yl">sCD137 (pg/mL)</text>
<path d="M429.2 417.4H477.2" class="sg"/>
<g class="st"><polygon points="449.65,411.55 450.22,412.62 451.41,412.83 450.56,413.7 450.74,414.9 449.65,414.36 448.56,414.9 448.74,413.7 447.89,412.83 449.08,412.62"/><polygon points="453.2,411.55 453.77,412.62 454.96,412.83 454.11,413.7 454.29,414.9 453.2,414.36 452.11,414.9 452.29,413.7 451.44,412.83 452.63,412.62"/><polygon points="456.75,411.55 457.32,412.62 458.51,412.83 457.66,413.7 457.84,414.9 456.75,414.36 455.66,414.9 455.84,413.7 454.99,412.83 456.18,412.62"/></g>
<g class="r"><circle cx="431.2" cy="428.4" r="1.6"/><circle cx="426.4" cy="474.5" r="1.6"/><circle cx="431.1" cy="477.3" r="1.6"/><circle cx="435.7" cy="476.8" r="1.6"/><circle cx="417.4" cy="481.1" r="1.6"/><circle cx="444.9" cy="481.9" r="1.6"/><circle cx="422.1" cy="482.7" r="1.6"/><circle cx="426.4" cy="484" r="1.6"/><circle cx="440.3" cy="484.2" r="1.6"/><circle cx="435.7" cy="485.5" r="1.6"/><circle cx="429" cy="487" r="1.6"/><circle cx="418" cy="487.9" r="1.6"/><circle cx="420.18" cy="488.6" r="1.6"/><circle cx="422.37" cy="489.18" r="1.6"/><circle cx="424.55" cy="489.62" r="1.6"/><circle cx="426.73" cy="489.94" r="1.6"/><circle cx="428.92" cy="490.14" r="1.6"/><circle cx="431.1" cy="490.2" r="1.6"/><circle cx="433.28" cy="490.14" r="1.6"/><circle cx="435.47" cy="489.94" r="1.6"/><circle cx="437.65" cy="489.62" r="1.6"/><circle cx="439.83" cy="489.18" r="1.6"/><circle cx="442.02" cy="488.6" r="1.6"/><circle cx="444.2" cy="487.9" r="1.6"/></g>
<path d="M415.1 484.2H447.2M423.4 479.1H439M423.4 489H439M431 479.1V489" class="rl"/>
<g class="b"><rect x="469" y="456.3" width="3" height="3"/><rect x="480.3" y="457" width="3" height="3"/><rect x="485.2" y="456.4" width="3" height="3"/><rect x="473.6" y="459.2" width="3" height="3"/><rect x="475.9" y="462.6" width="3" height="3"/><rect x="480.3" y="465.5" width="3" height="3"/><rect x="468.8" y="473.9" width="3" height="3"/><rect x="484.9" y="472.9" width="3" height="3"/><rect x="473.5" y="475.2" width="3" height="3"/><rect x="480.3" y="475.2" width="3" height="3"/><rect x="475.9" y="479" width="3" height="3"/><rect x="480.3" y="481.2" width="3" height="3"/><rect x="468.8" y="484.2" width="3" height="3"/><rect x="473.6" y="485.8" width="3" height="3"/><rect x="478.1" y="487.5" width="3" height="3"/><rect x="482.8" y="485.8" width="3" height="3"/><rect x="487.2" y="485" width="3" height="3"/></g>
<path d="M463.7 474.6H495.8M472.1 468.8H487.7M472.1 480.5H487.7M479.6 468.8V480.5" class="bl"/>
<text x="7.5" y="535.2" class="L">M</text>
<path d="M57.6 541.5V619.3 M54.7 619.3H170.2" class="ax"/>
<path d="M54 543.8H57.6M54 558.9H57.6M54 574H57.6M54 589.1H57.6M54 604.2H57.6M54 619.3H57.6M90 619.3V622.7M138.6 619.3V622.7" class="tkl"/>
<text transform="translate(50.8 546.65) scale(0.9 1)" class="tk">250000</text>
<text transform="translate(50.8 561.75) scale(0.9 1)" class="tk">200000</text>
<text transform="translate(50.8 576.85) scale(0.9 1)" class="tk">150000</text>
<text transform="translate(50.8 591.95) scale(0.9 1)" class="tk">100000</text>
<text transform="translate(50.8 607.05) scale(0.9 1)" class="tk">50000</text>
<text transform="translate(50.8 622.15) scale(0.9 1)" class="tk">0</text>
<text x="90" y="633.6" class="ct">No Toci</text>
<text x="138.6" y="633.6" class="ct">Toci</text>
<text transform="translate(17 579.9) rotate(-90) scale(0.79 1)" class="yl">sFas (pg/mL)</text>
<path d="M88.7 542.4H136.5" class="sg"/>
<g class="st"><polygon points="112.6,536.55 113.17,537.62 114.36,537.83 113.51,538.7 113.69,539.9 112.6,539.36 111.51,539.9 111.69,538.7 110.84,537.83 112.03,537.62"/></g>
<g class="r"><circle cx="90" cy="568.9" r="1.6"/><circle cx="90" cy="587.3" r="1.6"/><circle cx="90" cy="595.5" r="1.6"/><circle cx="85.4" cy="601.7" r="1.6"/><circle cx="90" cy="601.7" r="1.6"/><circle cx="94.6" cy="601.7" r="1.6"/><circle cx="90" cy="607" r="1.6"/><circle cx="75.8" cy="608.7" r="1.6"/><circle cx="104.3" cy="608.7" r="1.6"/><circle cx="79.4" cy="609.7" r="1.6"/><circle cx="100.9" cy="609.7" r="1.6"/><circle cx="83" cy="610.2" r="1.6"/><circle cx="97" cy="610.2" r="1.6"/><circle cx="86.9" cy="611.2" r="1.6"/><circle cx="93.6" cy="611.2" r="1.6"/><circle cx="90" cy="611.6" r="1.6"/><circle cx="78.5" cy="612.6" r="1.6"/><circle cx="101.9" cy="612.6" r="1.6"/><circle cx="81.8" cy="613.9" r="1.6"/><circle cx="98.2" cy="613.9" r="1.6"/><circle cx="85" cy="614.8" r="1.6"/><circle cx="94.9" cy="614.8" r="1.6"/><circle cx="88.3" cy="616.5" r="1.6"/><circle cx="91.4" cy="615.5" r="1.6"/></g>
<path d="M74.1 607.3H106.2M82.1 603.2H98M82.1 611H98M90 603.2V611" class="rl"/>
<g class="b"><rect x="137.1" y="558.6" width="3" height="3"/><rect x="137.1" y="572.7" width="3" height="3"/><rect x="137.1" y="580.7" width="3" height="3"/><rect x="132.8" y="591.8" width="3" height="3"/><rect x="141.8" y="591.2" width="3" height="3"/><rect x="137.1" y="594" width="3" height="3"/><rect x="130.3" y="602.4" width="3" height="3"/><rect x="134.8" y="603.2" width="3" height="3"/><rect x="139.3" y="603.2" width="3" height="3"/><rect x="144" y="602.1" width="3" height="3"/><rect x="132.8" y="607.7" width="3" height="3"/><rect x="141.8" y="606.6" width="3" height="3"/><rect x="137.1" y="609.2" width="3" height="3"/><rect x="130.2" y="610.3" width="3" height="3"/><rect x="144" y="610.3" width="3" height="3"/><rect x="139.5" y="612.3" width="3" height="3"/><rect x="134.8" y="614" width="3" height="3"/></g>
<path d="M122.5 599.4H154.9M130.9 591.8H146.7M130.9 607.3H146.7M138.6 591.8V607.3" class="bl"/>
<rect x="0.55" y="0.55" width="518.9" height="640.9" fill="none" stroke="#000" stroke-width="1.2"/>
</svg></body></html>
